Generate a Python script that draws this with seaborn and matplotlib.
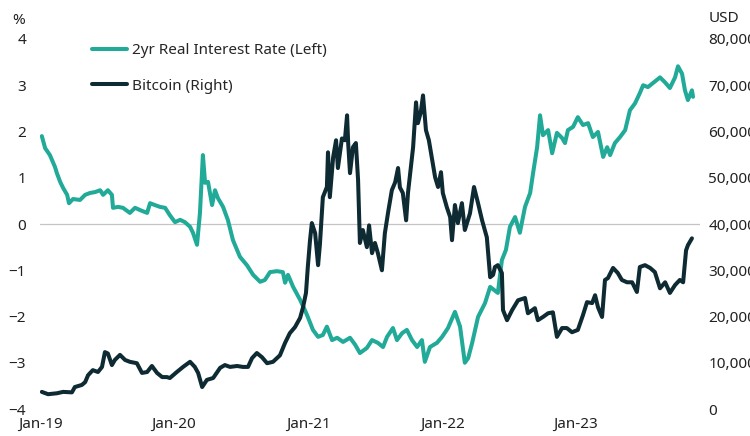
import pandas as pd
import seaborn as sns
import matplotlib.pyplot as plt
import matplotlib.dates as mdates
import matplotlib.ticker as mticker

# 2yr real interest rate (%), left axis
rate_dates = [
    "2019-01-06", "2019-01-15", "2019-01-28", "2019-02-11", "2019-02-16", "2019-02-25",
    "2019-03-05", "2019-03-16", "2019-03-21", "2019-04-01", "2019-04-20", "2019-05-04",
    "2019-05-17", "2019-05-31", "2019-06-14", "2019-06-22", "2019-07-05", "2019-07-16",
    "2019-07-19", "2019-08-02", "2019-08-15", "2019-09-03", "2019-09-17", "2019-10-01",
    "2019-10-20", "2019-10-28", "2019-11-10", "2019-11-24", "2019-12-08", "2019-12-21",
    "2020-01-04", "2020-01-18", "2020-01-31", "2020-02-14", "2020-02-22", "2020-03-04",
    "2020-03-12", "2020-03-20", "2020-03-26", "2020-04-03", "2020-04-14", "2020-04-22",
    "2020-04-30", "2020-05-14", "2020-05-27", "2020-06-10", "2020-06-29", "2020-07-18",
    "2020-08-04", "2020-08-23", "2020-09-05", "2020-09-19", "2020-10-08", "2020-10-24",
    "2020-10-30", "2020-11-07", "2020-11-21", "2020-12-10", "2020-12-23", "2020-12-31",
    "2021-01-14", "2021-01-28", "2021-02-10", "2021-02-21", "2021-03-07", "2021-03-21",
    "2021-04-06", "2021-04-25", "2021-05-09", "2021-05-22", "2021-06-10", "2021-06-24",
    "2021-07-10", "2021-07-24", "2021-08-04", "2021-08-20", "2021-08-31", "2021-09-14",
    "2021-09-27", "2021-10-11", "2021-10-25", "2021-11-07", "2021-11-15", "2021-11-29",
    "2021-12-18", "2022-01-01", "2022-01-17", "2022-02-05", "2022-02-19", "2022-03-04",
    "2022-03-13", "2022-03-24", "2022-04-09", "2022-04-28", "2022-05-12", "2022-06-02",
    "2022-06-13", "2022-06-24", "2022-07-05", "2022-07-19", "2022-08-01", "2022-08-15",
    "2022-08-29", "2022-09-06", "2022-09-17", "2022-09-25", "2022-10-03", "2022-10-17",
    "2022-10-28", "2022-11-10", "2022-11-24", "2022-12-02", "2022-12-10", "2022-12-24",
    "2023-01-06", "2023-01-20", "2023-02-03", "2023-02-16", "2023-03-02", "2023-03-16",
    "2023-03-27", "2023-04-04", "2023-04-17", "2023-05-01", "2023-05-15", "2023-05-28",
    "2023-06-11", "2023-06-24", "2023-07-03", "2023-07-16", "2023-07-30", "2023-08-18",
    "2023-09-01", "2023-09-14", "2023-09-28", "2023-10-06", "2023-10-17", "2023-10-25",
    "2023-11-02", "2023-11-13", "2023-11-16",
]
rate_values = [
    1.90, 1.64, 1.49, 1.23, 1.10, 0.91,
    0.78, 0.63, 0.45, 0.54, 0.52, 0.63,
    0.67, 0.69, 0.73, 0.63, 0.73, 0.63,
    0.35, 0.37, 0.35, 0.24, 0.35, 0.30,
    0.24, 0.45, 0.41, 0.37, 0.35, 0.19,
    0.04, 0.09, 0.04, -0.06, -0.19, -0.45,
    0.24, 1.49, 0.89, 0.91, 0.41, 0.73,
    0.56, 0.37, 0.09, -0.35, -0.71, -0.89,
    -1.10, -1.25, -1.21, -1.04, -1.02, -1.04,
    -1.27, -1.10, -1.36, -1.64, -1.86, -2.01,
    -2.29, -2.44, -2.40, -2.22, -2.51, -2.46,
    -2.55, -2.46, -2.61, -2.79, -2.68, -2.51,
    -2.57, -2.66, -2.44, -2.25, -2.51, -2.36,
    -2.29, -2.51, -2.66, -2.51, -2.98, -2.66,
    -2.57, -2.44, -2.25, -1.90, -2.22, -3.00,
    -2.90, -2.57, -2.01, -1.71, -1.36, -1.49,
    -0.78, -0.56, -0.06, 0.15, -0.19, 0.37,
    0.67, 1.10, 1.66, 2.35, 1.92, 2.03,
    1.53, 1.97, 1.86, 1.75, 2.03, 2.10,
    2.31, 2.14, 2.18, 1.88, 1.99, 1.45,
    1.66, 1.49, 1.75, 1.88, 2.03, 2.46,
    2.61, 2.83, 3.00, 2.96, 3.05, 3.17,
    3.06, 2.94, 3.17, 3.41, 3.25, 2.89,
    2.68, 2.89, 2.75,
]

# Bitcoin price (USD), right axis
btc_dates = [
    "2019-01-06", "2019-01-23", "2019-02-16", "2019-03-05", "2019-03-29", "2019-04-06",
    "2019-04-25", "2019-05-04", "2019-05-12", "2019-05-25", "2019-06-08", "2019-06-19",
    "2019-06-27", "2019-07-05", "2019-07-16", "2019-07-24", "2019-08-07", "2019-08-21",
    "2019-09-03", "2019-09-22", "2019-10-06", "2019-10-20", "2019-11-02", "2019-11-16",
    "2019-11-30", "2019-12-13", "2019-12-21", "2020-01-09", "2020-01-26", "2020-02-14",
    "2020-02-27", "2020-03-07", "2020-03-18", "2020-03-31", "2020-04-17", "2020-05-06",
    "2020-05-19", "2020-06-02", "2020-06-21", "2020-07-07", "2020-07-21", "2020-08-01",
    "2020-08-14", "2020-08-28", "2020-09-11", "2020-09-27", "2020-10-16", "2020-10-30",
    "2020-11-12", "2020-11-26", "2020-12-10", "2020-12-18", "2020-12-26", "2020-12-31",
    "2021-01-06", "2021-01-11", "2021-01-20", "2021-01-28", "2021-02-02", "2021-02-10",
    "2021-02-21", "2021-02-24", "2021-03-01", "2021-03-10", "2021-03-18", "2021-03-23",
    "2021-04-03", "2021-04-11", "2021-04-17", "2021-04-20", "2021-04-25", "2021-05-03",
    "2021-05-11", "2021-05-17", "2021-05-22", "2021-05-30", "2021-06-10", "2021-06-16",
    "2021-06-24", "2021-07-02", "2021-07-10", "2021-07-21", "2021-07-29", "2021-08-07",
    "2021-08-17", "2021-08-26", "2021-09-03", "2021-09-08", "2021-09-16", "2021-09-25",
    "2021-09-30", "2021-10-11", "2021-10-14", "2021-10-22", "2021-10-27", "2021-11-04",
    "2021-11-10", "2021-11-18", "2021-11-26", "2021-12-04", "2021-12-13", "2021-12-21",
    "2021-12-29", "2022-01-03", "2022-01-14", "2022-01-23", "2022-01-28", "2022-02-05",
    "2022-02-13", "2022-02-24", "2022-03-04", "2022-03-18", "2022-03-29", "2022-04-09",
    "2022-04-20", "2022-05-03", "2022-05-12", "2022-05-20", "2022-05-25", "2022-06-02",
    "2022-06-13", "2022-06-16", "2022-06-27", "2022-07-11", "2022-07-27", "2022-08-15",
    "2022-08-23", "2022-09-11", "2022-09-19", "2022-10-03", "2022-10-17", "2022-10-30",
    "2022-11-10", "2022-11-24", "2022-12-07", "2022-12-21", "2023-01-06", "2023-01-20",
    "2023-01-31", "2023-02-14", "2023-02-22", "2023-03-02", "2023-03-13", "2023-03-21",
    "2023-03-29", "2023-04-12", "2023-04-25", "2023-05-06", "2023-05-20", "2023-06-03",
    "2023-06-16", "2023-06-24", "2023-07-08", "2023-07-22", "2023-08-04", "2023-08-18",
    "2023-09-01", "2023-09-14", "2023-09-28", "2023-10-11", "2023-10-20", "2023-10-28",
    "2023-11-02", "2023-11-13",
]
btc_values = [
    3700, 3200, 3400, 3700, 3600, 4750,
    5200, 5800, 7300, 8400, 8000, 9100,
    12300, 12000, 9500, 10600, 11700, 10600,
    10200, 9900, 7800, 8000, 9300, 7800,
    6900, 6900, 6700, 8000, 9100, 10200,
    9100, 7800, 4750, 6300, 6700, 8900,
    9500, 9100, 9300, 9100, 9100, 11000,
    12100, 11200, 9900, 10200, 11600, 14300,
    16400, 17700, 19700, 22000, 25100, 30700,
    36500, 40200, 38000, 31100, 35600, 45800,
    48000, 55500, 45800, 54400, 58100, 52100,
    58500, 58100, 63500, 57500, 51000, 56600,
    57500, 49500, 35900, 38700, 35000, 39700,
    33700, 35900, 33700, 30000, 38000, 42600,
    47300, 49000, 52100, 47900, 46700, 40800,
    46700, 54400, 56600, 66300, 61800, 64200,
    67800, 60300, 58100, 54400, 50100, 48000,
    51200, 46700, 43600, 41500, 36500, 44100,
    40200, 44500, 38700, 42300, 48000, 44500,
    40800, 37100, 28500, 29000, 30700, 31100,
    29400, 21400, 19200, 21400, 23500, 24000,
    20700, 21800, 19200, 19900, 20700, 20900,
    15600, 17500, 17500, 16600, 17100, 20300,
    23100, 22900, 24600, 22000, 19900, 27900,
    28300, 30500, 29400, 27900, 27400, 27400,
    25300, 30700, 31100, 30500, 29600, 26100,
    27400, 25100, 26800, 27900, 27400, 34300,
    35400, 36900,
]

teal = "#22aa98"
navy = "#0e2a33"

rate = pd.DataFrame({"date": pd.to_datetime(rate_dates), "value": rate_values})
btc = pd.DataFrame({"date": pd.to_datetime(btc_dates), "value": btc_values})

sns.set_style("white")
plt.rcParams["font.family"] = ["Noto Sans", "DejaVu Sans"]
fs = 11

fig = plt.figure(figsize=(7.5, 4.36), dpi=100)
ax = fig.add_axes([40 / 750, 27 / 436, 660 / 750, 370 / 436])
ax2 = ax.twinx()

ax.axhline(0, color="#c4c4c4", lw=0.9, zorder=0)
sns.lineplot(data=rate, x="date", y="value", ax=ax, color=teal, lw=2.9,
             label="2yr Real Interest Rate (Left)", legend=False)
sns.lineplot(data=btc, x="date", y="value", ax=ax2, color=navy, lw=2.9,
             label="Bitcoin (Right)", legend=False)

ax.set_ylim(-4, 4)
ax2.set_ylim(0, 80000)
ax.set_xlim(pd.Timestamp("2019-01-01"), pd.Timestamp("2023-12-05"))
ax.set_yticks(range(-4, 5))
ax2.set_yticks(range(0, 80001, 10000))
ax2.yaxis.set_major_formatter(mticker.FuncFormatter(lambda v, p: f"{v:,.0f}"))
ax.xaxis.set_major_locator(mdates.YearLocator())
ax.xaxis.set_major_formatter(mdates.DateFormatter("%b-%y"))

for a in (ax, ax2):
    a.set_xlabel("")
    a.set_ylabel("")
    for s in a.spines.values():
        s.set_visible(False)
ax.tick_params(axis="y", length=0, pad=10, labelsize=fs, labelcolor="#222222")
ax.tick_params(axis="x", length=0, pad=6, labelsize=fs, labelcolor="#222222")
ax2.tick_params(axis="y", length=0, pad=6, labelsize=fs, labelcolor="#222222")

fig.text(12 / 750, 1 - 20 / 436, "%", fontsize=fs, va="center", color="#222222")
fig.text(709 / 750, 1 - 18 / 436, "USD", fontsize=fs, va="center", color="#222222")

h1, l1 = ax.get_legend_handles_labels()
h2, l2 = ax2.get_legend_handles_labels()
ax2.legend(h1 + h2, l1 + l2, loc="upper left", bbox_to_anchor=(92 / 750, 1 - 43 / 436),
           bbox_transform=fig.transFigure, frameon=False, fontsize=fs,
           handlelength=2.3, handletextpad=0.35, labelspacing=1.35,
           borderpad=0, borderaxespad=0)

fig.savefig("out.png", dpi=100, facecolor="white")
